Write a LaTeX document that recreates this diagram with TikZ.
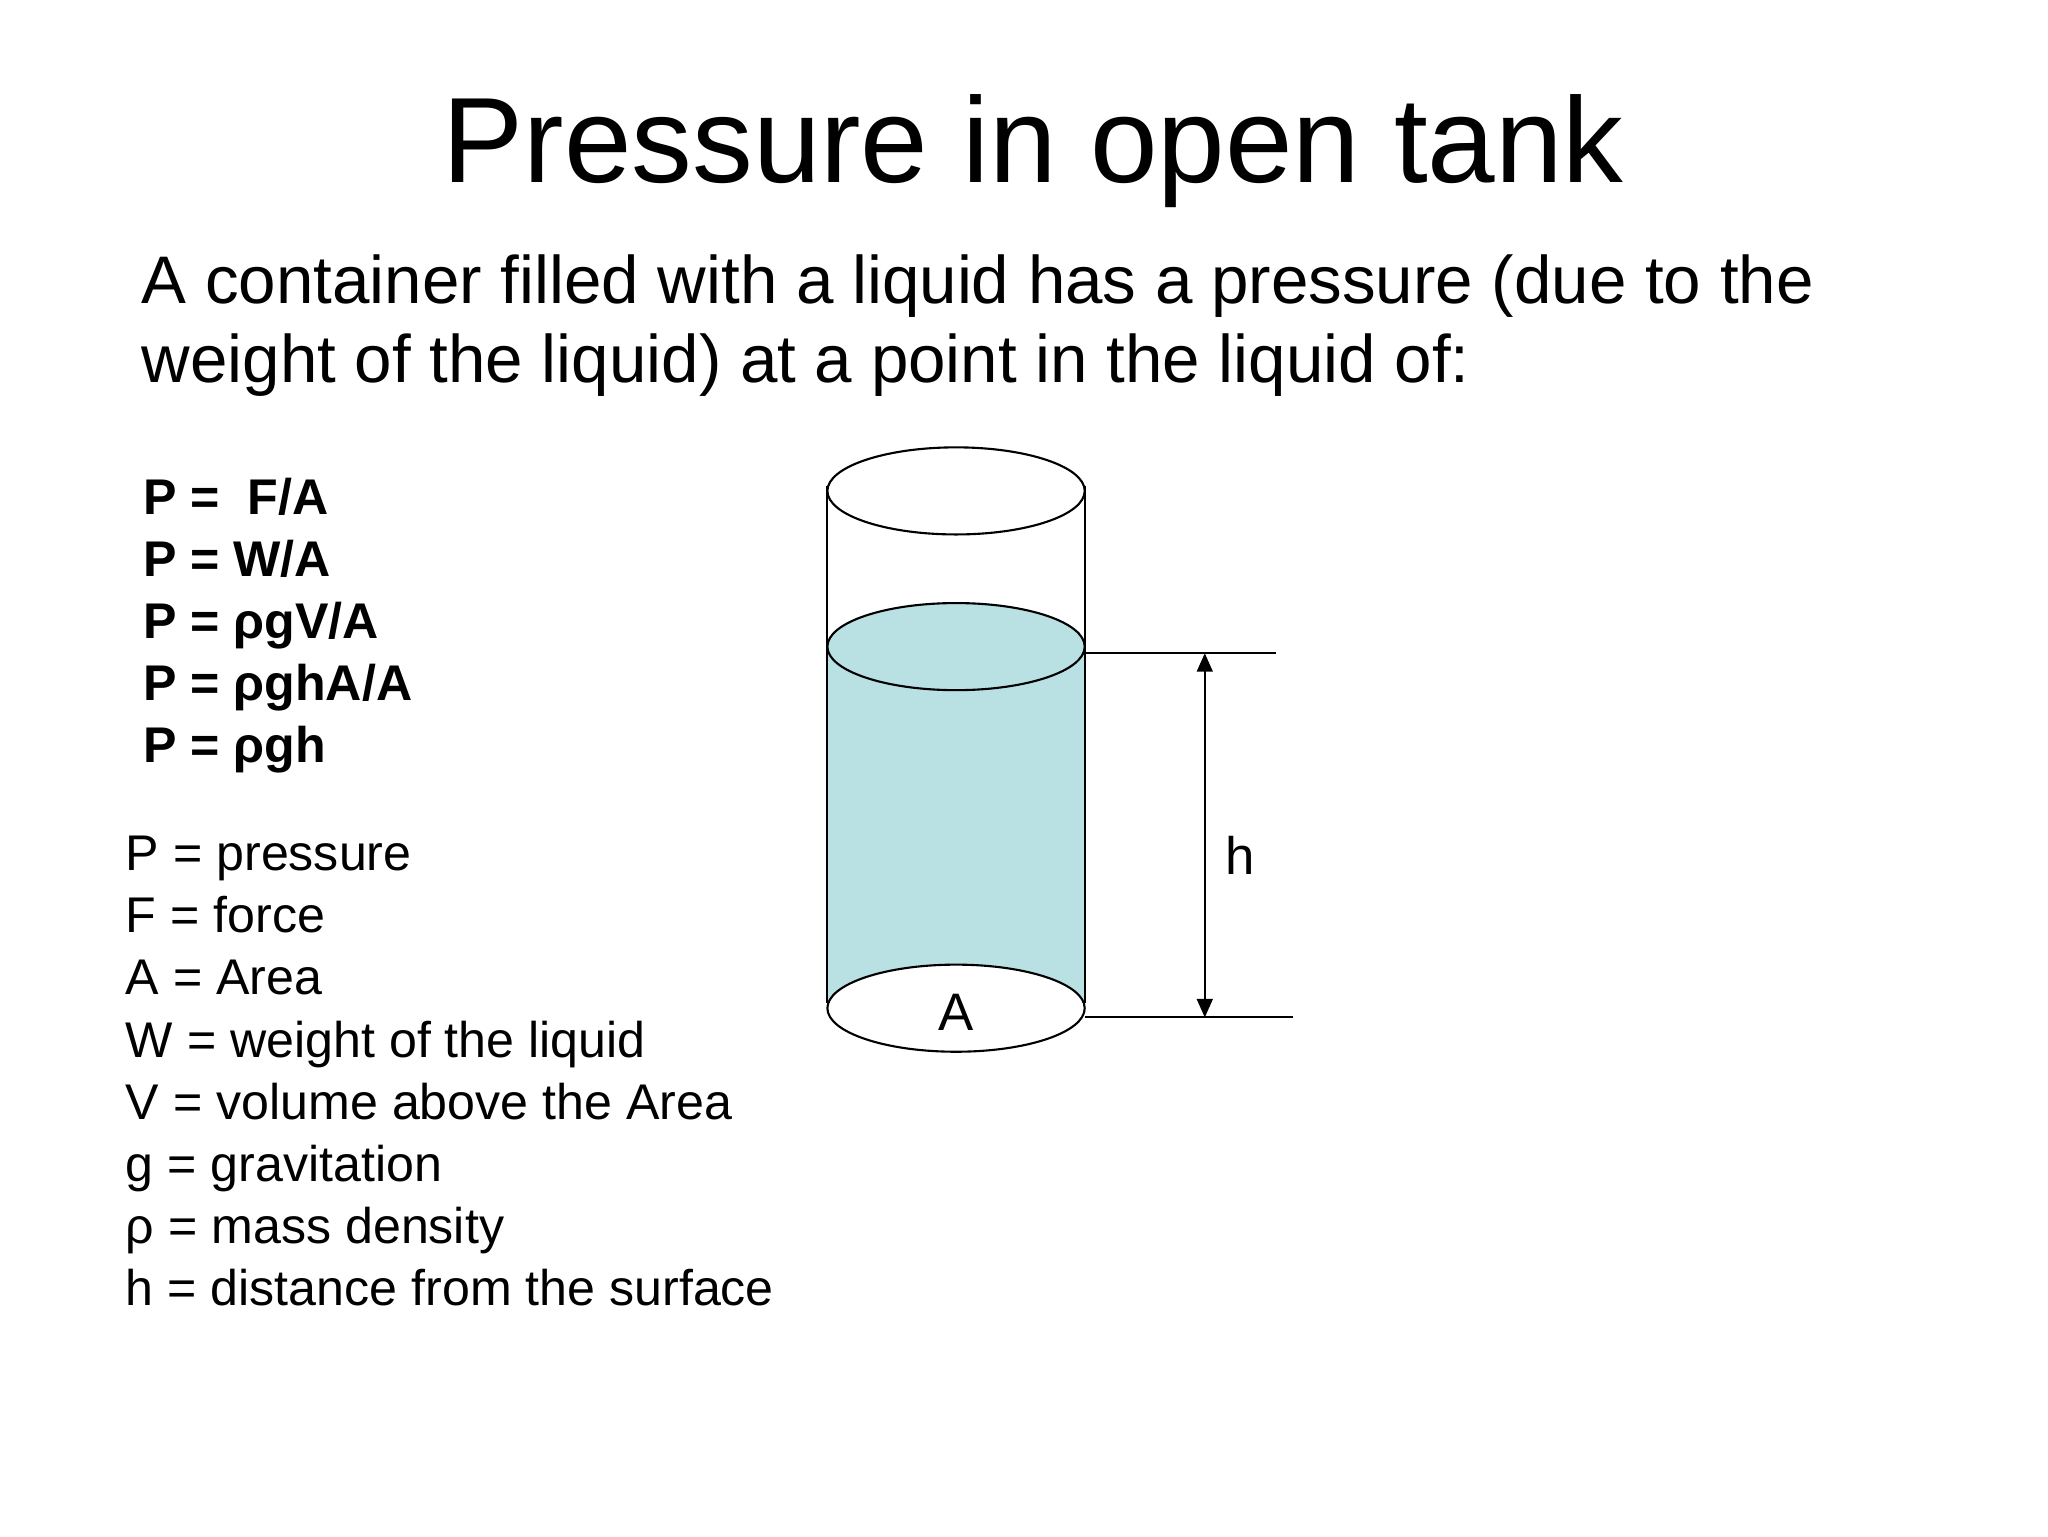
\documentclass[tikz,border=0pt]{standalone}
\usepackage{fontspec}
\setmainfont{Liberation Sans}
\usetikzlibrary{arrows.meta}
\definecolor{water}{RGB}{185,224,227}
\begin{document}
\begin{tikzpicture}[x=0.5pt,y=-0.5pt,
  ttl/.style={font=\fontsize{46}{50}\selectfont,anchor=base},
  body/.style={font=\fontsize{25.5}{28}\selectfont,anchor=base west,inner sep=0},
  frm/.style={font=\bfseries\fontsize{19}{22}\selectfont,anchor=base west,inner sep=0},
  leg/.style={font=\fontsize{19}{22}\selectfont,anchor=base west,inner sep=0},
  lab/.style={font=\fontsize{20}{22}\selectfont},
  ln/.style={line width=0.8pt}]
\useasboundingbox (0,0) rectangle (1552,1164);
\node[ttl] (title) at (783,138) {Pressure in open tank};
\node[body] (b1) at (107,230) {A container filled with a liquid has a pressure (due to the};
\node[body] (b2) at (107,290) {weight of the liquid) at a point in the liquid of:};
\node[frm] (f1) at (108,390) {P =\ \ F/A};
\node[frm] (f2) at (108,437) {P = W/A};
\node[frm] (f3) at (108,484) {P = ρgV/A};
\node[frm] (f4) at (108,531) {P = ρghA/A};
\node[frm] (f5) at (108,578) {P = ρgh};
\node[leg] (l1) at (95,660) {P = pressure};
\node[leg] (l2) at (95,707) {F = force};
\node[leg] (l3) at (95,754) {A = Area};
\node[leg] (l4) at (95,801) {W = weight of the liquid};
\node[leg] (l5) at (95,848) {V = volume above the Area};
\node[leg] (l6) at (95,895) {g = gravitation};
\node[leg] (l7) at (95,942) {ρ = mass density};
\node[leg] (l8) at (95,989) {h = distance from the surface};
% water
\fill[water] (627,490) -- (627,764) arc[start angle=180,end angle=360,x radius=97.5,y radius=33] -- (822,490) -- cycle;
\draw[ln,fill=water] (724.5,490) ellipse[x radius=97.5,y radius=33];
\draw[ln] (724.5,764) ellipse[x radius=97.5,y radius=33];
\draw[ln] (724.5,372) ellipse[x radius=97.5,y radius=33];
\draw[ln] (627,368) -- (627,760);
\draw[ln] (822,368) -- (822,760);
\coordinate (t1) at (822,495); \coordinate (t2) at (967,495);
\coordinate (u1) at (822,771); \coordinate (u2) at (980,771);
\coordinate (a1) at (913,495); \coordinate (a2) at (913,771);
\draw[ln] (t1) -- (t2);
\draw[ln] (u1) -- (u2);
\draw[ln,{Triangle[length=7pt,width=6pt]}-{Triangle[length=7pt,width=6pt]}] (a1) -- (a2);
\node[lab] (h) at (940,648) {h};
\node[lab] (A) at (724.5,767) {A};
\end{tikzpicture}
\end{document}
